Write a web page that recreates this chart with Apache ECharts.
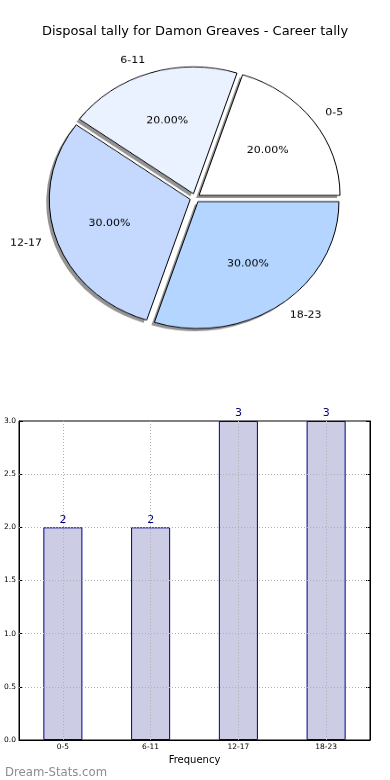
<!DOCTYPE html>
<html>
<head>
<meta charset="utf-8">
<script src="https://cdn.jsdelivr.net/npm/echarts@6/dist/echarts.min.js"></script>
<style>
html,body{margin:0;padding:0;background:#fff;}
#pie{position:absolute;left:0;top:0;width:390px;height:400px;transform:scaleY(0.9);transform-origin:195px 198px;z-index:1;}
#main{position:absolute;left:0;top:0;width:390px;height:780px;z-index:2;}
</style>
</head>
<body>
<div id="pie"></div>
<div id="main"></div>
<script>
// ---- data ----
const categories = ['0-5', '6-11', '12-17', '18-23'];
const counts = [2, 2, 3, 3];
const pieColors = ['#ffffff', '#eaf1ff', '#c5d9ff', '#b3d5ff'];
const yTicks = [0.5, 1.0, 1.5, 2.0, 2.5];
const titleText = 'Disposal tally for Damon Greaves - Career tally';
const xName = 'Frequency';
const watermark = 'Dream-Stats.com';

const FONT = 'DejaVu Sans, Liberation Sans, sans-serif';

// ---- pie (own instance, vertically scaled to match elliptical original) ----
const pie = echarts.init(document.getElementById('pie'), null, {renderer: 'canvas'});
const common = {
  type: 'pie', center: [195, 198],
  startAngle: 0, clockwise: false,
  selectedMode: 'multiple', selectedOffset: 5,
  avoidLabelOverlap: false, silent: true,
  emphasis: {disabled: true}
};
pie.setOption({
  animation: false,
  series: [
    // filled wedges with drop shadow (no outline)
    Object.assign({}, common, {
      radius: [0, 141],
      itemStyle: {
        borderWidth: 0,
        shadowColor: 'rgba(0,0,0,0.42)', shadowBlur: 0,
        shadowOffsetX: -3, shadowOffsetY: 3
      },
      label: {show: false}, labelLine: {show: false},
      data: categories.map((c, i) => ({name: c, value: counts[i], selected: true, itemStyle: {color: pieColors[i]}}))
    }),
    // outlines + outside category labels
    Object.assign({}, common, {
      radius: [0, 141],
      itemStyle: {color: 'rgba(0,0,0,0)', borderColor: '#000', borderWidth: 1},
      label: {
        show: true, position: 'outside', fontFamily: FONT, fontSize: 11, color: '#000',
        distanceToLabelLine: 0, formatter: '{b}'
      },
      labelLine: {show: false, length: 15, length2: 0},
      data: categories.map((c, i) => ({name: c, value: counts[i], selected: true}))
    }),
    // percentage labels
    Object.assign({}, common, {
      radius: [0, 164],
      itemStyle: {color: 'rgba(0,0,0,0)', borderWidth: 0},
      label: {
        show: true, position: 'inside', fontFamily: FONT, fontSize: 11, color: '#000',
        formatter: p => p.percent.toFixed(2) + '%'
      },
      labelLine: {show: false},
      data: categories.map((c, i) => ({name: c, value: counts[i], selected: true}))
    })
  ]
});

// ---- main: title, bar chart, watermark ----
const main = echarts.init(document.getElementById('main'), null, {renderer: 'canvas'});
const gridLineStyle = {color: '#b0b0b0', width: 1, type: [1, 2]};
main.setOption({
  animation: false,
  title: [
    {text: titleText, left: 'center', top: 20,
     textStyle: {fontFamily: FONT, fontSize: 13, fontWeight: 'normal', color: '#000'}},
    {text: watermark, left: 0, top: 762,
     textStyle: {fontFamily: FONT, fontSize: 11.7, fontWeight: 'normal', color: '#8c8c8c'}}
  ],
  grid: {left: 19, right: 20, top: 421, bottom: 40, show: true, borderColor: '#000', borderWidth: 1, containLabel: false},
  xAxis: {
    type: 'category', data: categories,
    axisLine: {show: true, lineStyle: {color: '#000', width: 1}},
    axisTick: {show: true, inside: true, alignWithLabel: true, length: 4, lineStyle: {color: '#000'}},
    axisLabel: {fontFamily: FONT, fontSize: 7.5, color: '#000', margin: 3},
    splitLine: {show: false},
    name: xName, nameLocation: 'middle', nameGap: 15,
    nameTextStyle: {fontFamily: FONT, fontSize: 10, color: '#000'}
  },
  yAxis: [
    {
      type: 'value', min: 0, max: 3, interval: 0.5,
      axisLine: {show: true, lineStyle: {color: '#000', width: 1}},
      axisTick: {show: true, inside: true, length: 4, lineStyle: {color: '#000'}},
      axisLabel: {fontFamily: FONT, fontSize: 7.5, color: '#000', margin: 3, formatter: v => v.toFixed(1)},
      splitLine: {show: false}
    },
    {
      type: 'value', min: 0, max: 3, interval: 0.5, position: 'right',
      axisLine: {show: true, lineStyle: {color: '#000', width: 1}},
      axisTick: {show: true, inside: true, length: 4, lineStyle: {color: '#000'}},
      axisLabel: {show: false},
      splitLine: {show: false}
    }
  ],
  series: [{
    type: 'bar', data: counts, barWidth: '44.5%',
    itemStyle: {color: '#cccce5', borderColor: '#000080', borderWidth: 1},
    label: {show: true, position: 'top', distance: 2, fontFamily: FONT, fontSize: 11, color: '#000080'},
    markLine: {
      silent: true, symbol: 'none', animation: false,
      label: {show: false},
      lineStyle: gridLineStyle,
      data: yTicks.map(v => ({yAxis: v})).concat(categories.map(c => ({xAxis: c})))
    }
  }]
});
</script>
</body>
</html>
